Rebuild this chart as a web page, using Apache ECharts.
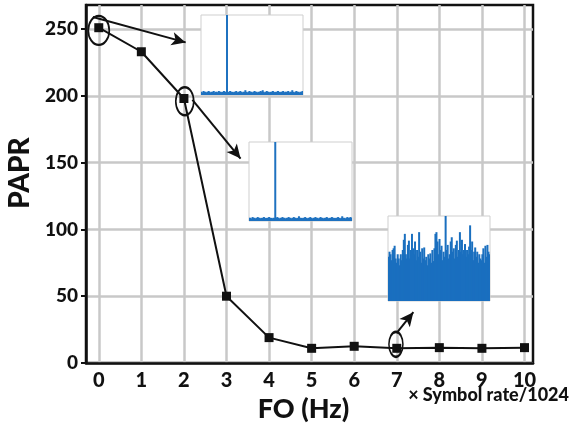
<!DOCTYPE html>
<html>
<head>
<meta charset="utf-8">
<script src="https://cdn.jsdelivr.net/npm/echarts@6/dist/echarts.min.js"></script>
<style>html,body{margin:0;padding:0;background:#fff}#c{width:577px;height:425px}</style>
</head>
<body>
<div id="c"></div>
<script>
// ---- data ----
var foValues = [0, 1, 2, 3, 4, 5, 6, 7, 8, 9, 10];
var paprValues = [251, 233, 198, 50, 19, 11, 12.5, 11, 11.5, 11, 11.5];
var xTickValues = [0, 1, 2, 3, 4, 5, 6, 7, 8, 9, 10];
var yTickValues = [0, 50, 100, 150, 200, 250];
// highlighted points (ellipses) and arrows, in data units
var ellipsePoints = [[0, 249], [2.02, 196], [6.98, 14]];
var ellipseSizes = [[21, 29], [18, 28], [14, 25]];
var arrowStarts = [[-0.14, 259], [2.2, 197], [7.0, 22.5]];
var arrowEnds = [[2.04, 240], [3.33, 153], [7.39, 38]];
// inset spectra (relative amplitude, %)
var spec1 = [4,3,5,4,4,3,4,5,4,3,4,4,5,3,4,4,3,5,4,4,3,4,5,4,4,100,4,3,5,4,4,3,4,4,5,3,4,4,5,4,
             3,4,4,6,4,3,4,5,4,4,3,4,5,4,4,3,4,4,5,4,6,4,3,4,5,4,4,3,4,4,5,4,3,4,4,5,4,3,4,4,
             5,3,4,4,4,5,3,4,4,6,4,3,4,5,4,4,3,4,4,5];
var spec2 = [4,4,3,5,4,4,3,4,5,4,4,3,4,4,5,4,3,4,4,5,4,4,3,4,4,100,4,5,4,3,4,4,5,4,4,3,4,4,5,4,
             4,3,4,5,4,4,3,4,6,4,4,3,4,4,5,4,3,4,4,5,4,3,4,4,5,4,4,3,4,5,4,4,3,4,4,5,4,3,4,4,
             5,4,4,3,4,4,5,4,3,4,6,4,4,3,4,5,4,4,5,4];
var spec3 = [52,58,55,48,60, 62,65,50,45,55, 50,42,55,48,60, 72,79,55,50,66,
             71,50,60,79,62, 55,70,48,60,52, 81,58,45,62,50, 63,48,52,42,55,
             50,56,45,60,47, 62,79,81,70,55, 73,60,65,48,58, 52,100,60,66,50,
             55,70,75,58,62, 50,66,71,52,60, 81,58,72,55,60, 67,52,60,55,64,
             89,60,70,48,58, 63,52,58,45,55, 50,48,55,62,45, 65,52,66,58,55];

var chart = echarts.init(document.getElementById('c'), null, {renderer: 'canvas'});
var FONT = 'Lato';
var W = 900;
var main = foValues.map(function (x, i) { return [x, paprValues[i]]; });
var ell = ellipsePoints.map(function (p, i) { return {value: p, symbolSize: ellipseSizes[i]}; });
var arrows = arrowStarts.map(function (s, i) { return [{coord: s}, {coord: arrowEnds[i]}]; });
function idx(arr) { return arr.map(function (_, i) { return i; }); }

function insetGrid(l, t, w, h) {
  return {left: l, top: t, width: w, height: h, show: true, backgroundColor: '#fff',
          borderColor: '#cfcfcf', borderWidth: 1, z: 5, outerBoundsMode: 'none'};
}
function insetX(gi, n) {
  return {type: 'category', gridIndex: gi, data: idx(n), boundaryGap: true, show: false, z: 5};
}
function insetY(gi) {
  return {type: 'value', gridIndex: gi, min: 0, max: 100, show: false, z: 5};
}
function insetSeries(gi, data, color) {
  return {type: 'bar', xAxisIndex: gi, yAxisIndex: gi, data: data, barWidth: 2,
          itemStyle: {color: color, opacity: 1}, silent: true, z: 6, animation: false,
          large: false};
}

chart.setOption({
  animation: false,
  backgroundColor: '#fff',
  title: {
    text: '× Symbol rate/1024', right: 3, top: 381,
    textStyle: {fontFamily: FONT, fontWeight: W, fontSize: 18, color: '#111'}
  },
  grid: [
    {left: 86, right: 44, top: 5, bottom: 62, show: true, borderColor: '#111', borderWidth: 2.5,
     backgroundColor: 'transparent', outerBoundsMode: 'none', containLabel: false},
    insetGrid(201, 15, 102, 80),
    insetGrid(249, 142, 103, 79),
    insetGrid(388, 216, 102, 85)
  ],
  xAxis: [
    {type: 'value', gridIndex: 0, min: -0.3, max: 10.2,
     name: 'FO (Hz)', nameLocation: 'middle', nameGap: 32,
     nameTextStyle: {fontFamily: FONT, fontWeight: W, fontSize: 27, color: '#111', padding: [0, 12, 0, 0]},
     axisLine: {show: true, onZero: false, lineStyle: {color: '#111', width: 2.5}},
     axisTick: {show: false, customValues: xTickValues},
     axisLabel: {customValues: xTickValues, fontFamily: FONT, fontWeight: W, fontSize: 20, color: '#111', margin: 8},
     splitLine: {show: true, lineStyle: {color: '#c8c8c8', width: 2.5}}},
    insetX(1, spec1), insetX(2, spec2), insetX(3, spec3)
  ],
  yAxis: [
    {type: 'value', gridIndex: 0, min: 0, max: 268,
     name: 'PAPR', nameLocation: 'middle', nameGap: 48, nameRotate: 90,
     nameTextStyle: {fontFamily: FONT, fontWeight: W, fontSize: 28, color: '#111', padding: [0, 0, 0, 22]},
     axisLine: {show: true, onZero: false, lineStyle: {color: '#111', width: 2.5}},
     axisTick: {show: true, length: 5, customValues: yTickValues, lineStyle: {color: '#111', width: 2}},
     axisLabel: {customValues: yTickValues, fontFamily: FONT, fontWeight: W, fontSize: 19, color: '#111', margin: 8},
     splitLine: {show: true, lineStyle: {color: '#c8c8c8', width: 2.5}}},
    insetY(1), insetY(2), insetY(3)
  ],
  series: [
    {type: 'line', xAxisIndex: 0, yAxisIndex: 0, data: main, symbol: 'rect', symbolSize: 9,
     itemStyle: {color: '#111'}, lineStyle: {color: '#111', width: 2}, z: 3,
     markLine: {silent: true, symbol: ['none', 'arrow'], symbolSize: [10, 14],
                lineStyle: {color: '#111', width: 2, type: 'solid'}, label: {show: false},
                data: arrows}},
    {type: 'scatter', xAxisIndex: 0, yAxisIndex: 0, data: ell, symbol: 'circle',
     itemStyle: {color: 'rgba(0,0,0,0)', borderColor: '#111', borderWidth: 2, opacity: 1}, z: 4, silent: true},
    insetSeries(1, spec1, '#1f72c0'),
    insetSeries(2, spec2, '#1f72c0'),
    insetSeries(3, spec3, '#1a6fbf')
  ]
});
</script>
</body>
</html>
